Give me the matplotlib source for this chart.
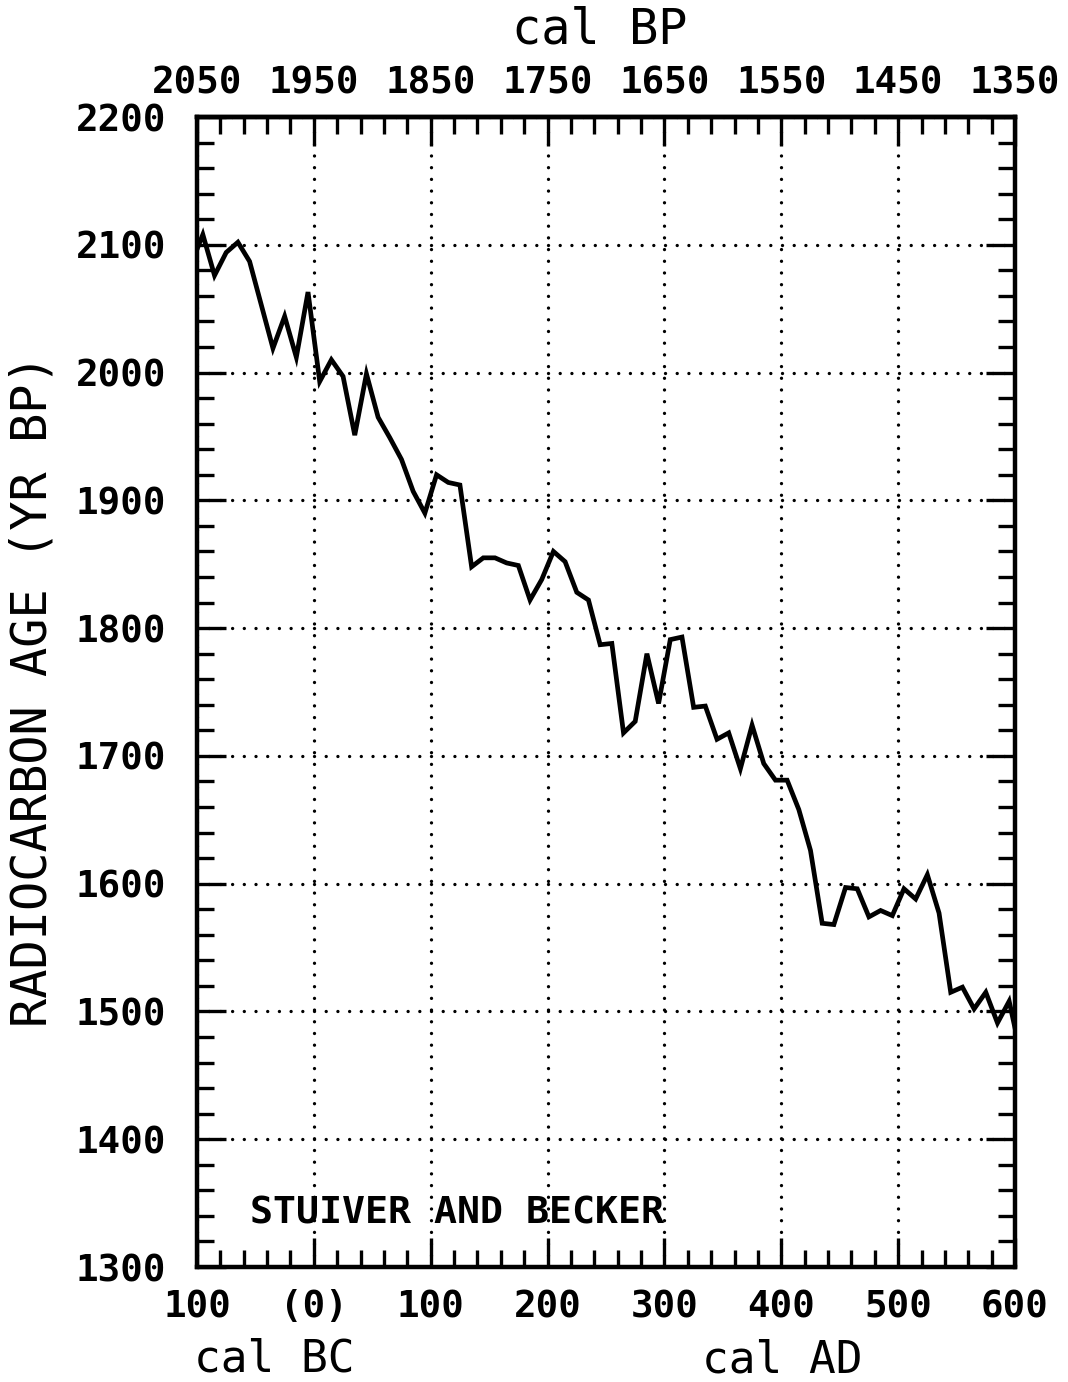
import numpy as np
import matplotlib
matplotlib.use("Agg")
import matplotlib.pyplot as plt

# decadal calibration data (cal year, negative = BC)
years = [-105, -95, -85, -75, -65, -55, -45, -35, -25, -15, -5,
         5, 15, 25, 35, 45, 55, 65, 75, 85, 95,
         105, 115, 125, 135, 145, 155, 165, 175, 185, 195,
         205, 215, 225, 235, 245, 255, 265, 275, 285, 295,
         305, 315, 325, 335, 345, 355, 365, 375, 385, 395,
         405, 415, 425, 435, 445, 455, 465, 475, 485, 495,
         505, 515, 525, 535, 545, 555, 565, 575, 585, 595, 605]
ages = [2085, 2108, 2076, 2094, 2102, 2087, 2053, 2019, 2044, 2012, 2063,
        1993, 2010, 1997, 1951, 1999, 1965, 1949, 1932, 1907, 1890,
        1920, 1914, 1912, 1848, 1855, 1855, 1851, 1849, 1822, 1838,
        1860, 1852, 1828, 1822, 1787, 1788, 1718, 1727, 1780, 1741,
        1791, 1793, 1738, 1739, 1713, 1718, 1690, 1724, 1694, 1681,
        1681, 1658, 1626, 1569, 1568, 1597, 1596, 1574, 1579, 1575,
        1596, 1588, 1607, 1577, 1515, 1519, 1502, 1515, 1491, 1508, 1466]

x_ticks = [-100, 0, 100, 200, 300, 400, 500, 600]
x_labels = ['100', '(0)', '100', '200', '300', '400', '500', '600']
y_ticks = [1300, 1400, 1500, 1600, 1700, 1800, 1900, 2000, 2100, 2200]
bp_ticks = [2050, 1950, 1850, 1750, 1650, 1550, 1450, 1350]

mono = 'DejaVu Sans Mono'
W, H = 1068, 1382

fig = plt.figure(figsize=(W / 100, H / 100), dpi=100)
ax = fig.add_axes([197 / W, 1 - 1267 / H, (1015 - 197) / W, (1267 - 117) / H])

ax.plot(years, ages, color='black', lw=3.4, solid_joinstyle='miter')

ax.set_xlim(-100, 600)
ax.set_ylim(1300, 2200)
ax.set_xticks(x_ticks)
ax.set_xticklabels(x_labels)
ax.set_xticks(np.arange(-100, 601, 20), minor=True)
ax.set_yticks(y_ticks)
ax.set_yticks(np.arange(1300, 2201, 20), minor=True)

for s in ax.spines.values():
    s.set_linewidth(3.2)

ax.tick_params(which='both', direction='in', width=2.4, top=False, right=True,
               color='black')
ax.tick_params(which='major', length=21)
ax.tick_params(which='minor', length=12)
ax.tick_params(axis='x', which='major', pad=16)
ax.tick_params(axis='y', which='major', pad=22)
for lab in ax.get_xticklabels() + ax.get_yticklabels():
    lab.set_fontfamily(mono)
    lab.set_fontweight('bold')
    lab.set_fontsize(27)

ax.grid(True, which='major', color='black', lw=2.4,
        linestyle=(0, (0.01, 3.5)), dash_capstyle='round')

# top axis in cal BP
sec = ax.secondary_xaxis('top', functions=(lambda x: 1950 - x, lambda b: 1950 - b))
sec.set_xticks(bp_ticks)
sec.set_xticks(np.arange(1350, 2051, 20), minor=True)
sec.spines['top'].set_linewidth(3.2)
sec.tick_params(which='both', direction='in', width=2.4, color='black')
sec.tick_params(which='major', length=21, pad=11)
sec.tick_params(which='minor', length=12)
for lab in sec.get_xticklabels():
    lab.set_fontfamily(mono)
    lab.set_fontweight('bold')
    lab.set_fontsize(27)

ax.text(-55, 1342, 'STUIVER AND BECKER', family=mono, fontweight='bold',
        fontsize=27.5, ha='left', va='center')

fig.text(600 / W, 1 - 30 / H, 'cal BP', family=mono, fontsize=35,
         ha='center', va='center')
fig.text(274 / W, 1 - 1359 / H, 'cal BC', family=mono, fontsize=32,
         ha='center', va='center')
fig.text(782 / W, 1 - 1360 / H, 'cal AD', family=mono, fontsize=32,
         ha='center', va='center')
fig.text(33 / W, 1 - 691 / H, 'RADIOCARBON AGE (YR BP)', family=mono,
         fontsize=35, rotation=90, ha='center', va='center')

fig.savefig('out.png', dpi=100, facecolor='white')
